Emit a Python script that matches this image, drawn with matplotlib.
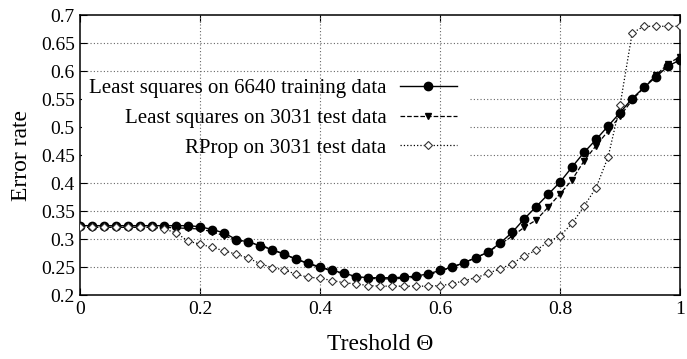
import matplotlib
matplotlib.use("Agg")
import matplotlib.pyplot as plt
from matplotlib.patches import Rectangle
from matplotlib.ticker import FuncFormatter

plt.rcParams["font.family"] = ["Liberation Serif", "DejaVu Serif"]

# threshold values 0, 0.02, ..., 1.0
theta = [round(0.02 * i, 2) for i in range(51)]

ls_train = [0.324] * 10 + [
    0.322, 0.317, 0.311, 0.299, 0.295, 0.288, 0.281, 0.273, 0.264, 0.257,
    0.250, 0.244, 0.239, 0.233, 0.231, 0.231, 0.231, 0.232, 0.234, 0.238,
    0.244, 0.250, 0.258, 0.267, 0.277, 0.293, 0.312, 0.336, 0.358, 0.380,
    0.402, 0.429, 0.455, 0.478, 0.502, 0.526, 0.551, 0.571, 0.590, 0.609,
    0.620]

ls_test = [0.321] * 8 + [
    0.320, 0.319, 0.318, 0.313, 0.306, 0.298, 0.294, 0.290, 0.281, 0.273,
    0.264, 0.256, 0.249, 0.243, 0.238, 0.232, 0.230, 0.229, 0.229, 0.230,
    0.232, 0.235, 0.243, 0.250, 0.258, 0.267, 0.277, 0.291, 0.305, 0.321,
    0.334, 0.357, 0.381, 0.406, 0.440, 0.467, 0.493, 0.520, 0.548, 0.571,
    0.593, 0.613, 0.626]

rprop_test = [0.321] * 7 + [
    0.318, 0.311, 0.296, 0.291, 0.285, 0.279, 0.273, 0.266, 0.256, 0.249,
    0.245, 0.237, 0.232, 0.230, 0.226, 0.222, 0.220, 0.217, 0.216, 0.216,
    0.216, 0.216, 0.216, 0.217, 0.220, 0.226, 0.231, 0.239, 0.247, 0.256,
    0.270, 0.280, 0.295, 0.306, 0.328, 0.359, 0.392, 0.447, 0.540, 0.668,
    0.680, 0.680, 0.680, 0.680]

labels = ["Least squares on 6640 training data",
          "Least squares on 3031 test data",
          "RProp on 3031 test data"]

fig = plt.figure(figsize=(6.87, 3.59), dpi=100)
ax = fig.add_axes([0.117, 0.178, 0.873, 0.780])

ax.set_xlim(0, 1)
ax.set_ylim(0.2, 0.7)
ax.set_xticks([0, 0.2, 0.4, 0.6, 0.8, 1.0])
ax.set_yticks([0.2 + 0.05 * i for i in range(11)])
fmt = FuncFormatter(lambda v, p: "%g" % round(v, 2))
ax.xaxis.set_major_formatter(fmt)
ax.yaxis.set_major_formatter(fmt)

# grid: horizontal lines hidden behind the key box, vertical ones drawn over it
for yv in ax.get_yticks()[1:-1]:
    ax.axhline(yv, color="#666666", lw=0.8, ls=(0, (1, 2)), zorder=1)
for xv in ax.get_xticks()[1:-1]:
    ax.axvline(xv, color="#666666", lw=0.8, ls=(0, (1, 2)), zorder=3)
ax.add_patch(Rectangle((0.002, 0.425), 0.648, 0.16, facecolor="white",
                       edgecolor="none", zorder=2))

ax.plot(theta, ls_train, "-", color="black", lw=1.0, marker="o",
        markersize=6, label=labels[0], zorder=5)
ax.plot(theta, ls_test, "--", color="black", lw=0.9, marker="v",
        markersize=5, label=labels[1], zorder=5)
ax.plot(theta, rprop_test, ":", color="black", lw=0.9, marker="D",
        markersize=4.5, markerfacecolor="white", markeredgecolor="#333333",
        markeredgewidth=0.8, label=labels[2], zorder=5)

leg = ax.legend(loc="center right", bbox_to_anchor=(0.645, 0.632), frameon=False,
                markerfirst=False, fontsize=15, handlelength=2.75,
                labelspacing=0.49, handletextpad=0.63, borderpad=0,
                alignment="right")
for t in leg.get_texts():
    t.set_ha("right")
leg.set_zorder(6)

ax.tick_params(direction="in", top=True, right=True, labelsize=14,
               length=5, width=0.8, pad=4)
for s in ax.spines.values():
    s.set_linewidth(1.1)

ax.set_xlabel("Treshold \u0398", fontsize=17, labelpad=12)
ax.set_ylabel("Error rate", fontsize=17, labelpad=6)

fig.savefig("out.png", dpi=100)
